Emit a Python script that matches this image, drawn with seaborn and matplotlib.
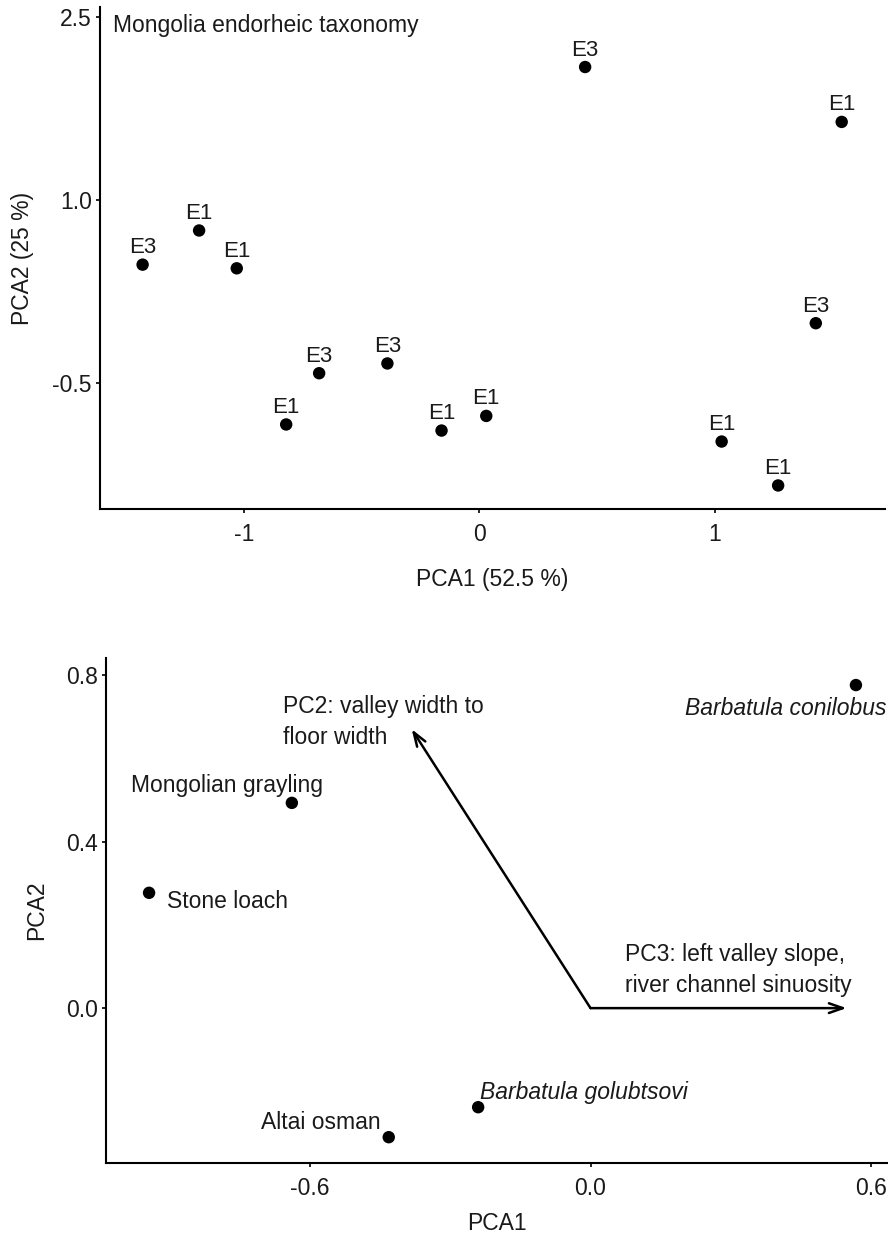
import matplotlib
matplotlib.use("Agg")
import matplotlib.pyplot as plt
import seaborn as sns
import pandas as pd

# top panel: site scores coloured by endorheic class
pca1_sites = [-1.43, -1.19, -1.03, -0.82, -0.68, -0.39, -0.16, 0.03, 0.45, 1.03, 1.27, 1.43, 1.54]
pca2_sites = [0.47, 0.75, 0.44, -0.84, -0.42, -0.34, -0.89, -0.77, 2.09, -0.98, -1.34, -0.01, 1.64]
site_class = ["E3", "E1", "E1", "E1", "E3", "E3", "E1", "E1", "E3", "E1", "E1", "E3", "E1"]

# bottom panel: species scores and loading arrows
species = ["Mongolian grayling", "Stone loach", "Barbatula conilobus",
           "Barbatula golubtsovi", "Altai osman"]
species_italic = [False, False, True, True, False]
pca1_species = [-0.638, -0.943, 0.567, -0.240, -0.431]
pca2_species = [0.493, 0.277, 0.776, -0.238, -0.310]

loading_names = ["PC2: valley width to\nfloor width",
                 "PC3: left valley slope,\nriver channel sinuosity"]
loading_x = [-0.382, 0.547]
loading_y = [0.670, 0.0]

sns.set_theme(style="ticks")
plt.rcParams["font.family"] = ["Liberation Sans", "DejaVu Sans"]
TXT = "#1a1a1a"
FS = 16.5

fig = plt.figure(figsize=(8.88, 12.37), dpi=100)
ax1 = fig.add_axes([100 / 888, 1 - 509 / 1237, 785 / 888, 502 / 1237])
ax2 = fig.add_axes([106 / 888, 1 - 1163 / 1237, 782 / 888, 505 / 1237])

def style_axes(ax):
    sns.despine(ax=ax)
    for s in ["left", "bottom"]:
        ax.spines[s].set_linewidth(1.5)
        ax.spines[s].set_color("black")
    ax.tick_params(length=3, width=1.2, color="black", labelsize=FS,
                   labelcolor=TXT, pad=3)
    ax.tick_params(axis="x", pad=7)

# ---- top panel
sites = pd.DataFrame({"PCA1": pca1_sites, "PCA2": pca2_sites, "cls": site_class})
sns.scatterplot(data=sites, x="PCA1", y="PCA2", ax=ax1, color="black",
                s=80, edgecolor="none", legend=False)
for x, y, lab in zip(pca1_sites, pca2_sites, site_class):
    ax1.annotate(lab, (x, y), xytext=(0, 17), textcoords="offset pixels",
                 ha="center", va="center", fontsize=16, color=TXT)
ax1.set_xlim(-1.611, 1.724)
ax1.set_ylim(-1.533, 2.582)
ax1.set_xticks([-1, 0, 1])
ax1.set_xticklabels(["-1", "0", "1"])
ax1.set_yticks([-0.5, 1.0, 2.5])
ax1.set_yticklabels(["-0.5", "1.0", "2.5"])
ax1.set_xlabel("PCA1 (52.5 %)", fontsize=FS, color=TXT, labelpad=16)
ax1.set_ylabel("PCA2 (25 %)", fontsize=FS, color=TXT, labelpad=13)
ax1.text(0.0166, 0.964, "Mongolia endorheic taxonomy", transform=ax1.transAxes,
         ha="left", va="center", fontsize=FS, color=TXT)
style_axes(ax1)

# ---- bottom panel
spec = pd.DataFrame({"PCA1": pca1_species, "PCA2": pca2_species, "species": species})
sns.scatterplot(data=spec, x="PCA1", y="PCA2", ax=ax2, color="black",
                s=80, edgecolor="none", legend=False)
label_offsets = [(-65, 17, "center"), (18, -9, "left"), (31, -23, "right"),
                 (2, 15, "left"), (-8, 15, "right")]
for x, y, lab, it, (dx, dy, ha) in zip(pca1_species, pca2_species, species,
                                        species_italic, label_offsets):
    ax2.annotate(lab, (x, y), xytext=(dx, dy), textcoords="offset pixels",
                 ha=ha, va="center", fontsize=FS, color=TXT,
                 style="italic" if it else "normal")

arrow_text_offsets = [(-129, 7), (-222, 38)]
for lx, ly, name, (dx, dy) in zip(loading_x, loading_y, loading_names,
                                  arrow_text_offsets):
    ax2.annotate("", xy=(lx, ly), xytext=(0, 0),
                 arrowprops=dict(arrowstyle="->,head_length=1.0,head_width=0.35",
                                 lw=1.8, color="black", shrinkA=0, shrinkB=0,
                                 mutation_scale=10))
    ax2.annotate(name, (lx, ly), xytext=(dx, dy), textcoords="offset pixels",
                 ha="left", va="center", fontsize=FS, color=TXT, linespacing=1.45)

ax2.set_xlim(-1.035, 0.6355)
ax2.set_ylim(-0.372, 0.841)
ax2.set_xticks([-0.6, 0.0, 0.6])
ax2.set_xticklabels(["-0.6", "0.0", "0.6"])
ax2.set_yticks([0.0, 0.4, 0.8])
ax2.set_yticklabels(["0.0", "0.4", "0.8"])
ax2.set_xlabel("PCA1", fontsize=FS, color=TXT, labelpad=9)
ax2.set_ylabel("PCA2", fontsize=FS, color=TXT, labelpad=13)
style_axes(ax2)

fig.savefig("out.png", dpi=100)
